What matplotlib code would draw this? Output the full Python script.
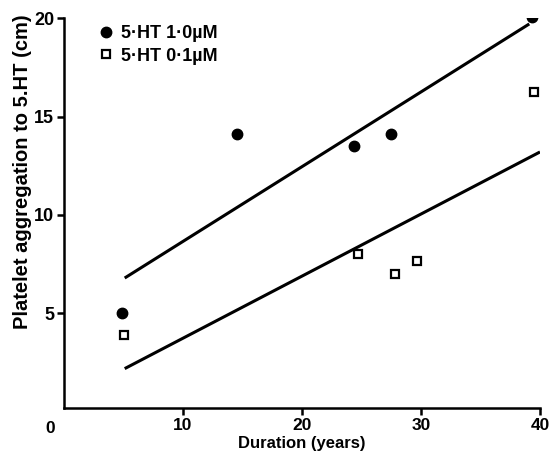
import matplotlib
matplotlib.use('Agg')
import matplotlib.pyplot as plt

# data
dur_high = [4.9, 14.5, 24.4, 27.5, 39.3]
agg_high = [5.0, 14.1, 13.5, 14.1, 20.05]
dur_low = [5.05, 24.7, 27.8, 29.7, 39.5]
agg_low = [3.9, 8.0, 7.0, 7.65, 16.25]

# regression line end points
fit_high_x = [5.1, 39.1]
fit_high_y = [6.8, 19.7]
fit_low_x = [5.1, 40.0]
fit_low_y = [2.2, 13.2]

xticks = [10, 20, 30, 40]
yticks = [5, 10, 15, 20]

plt.rcParams['font.family'] = 'Liberation Sans'
plt.rcParams['font.weight'] = 'bold'

fig = plt.figure(figsize=(5.49, 4.54), dpi=100)
ax = fig.add_axes([0.1166, 0.1013, 0.867, 0.859])

ax.plot(fit_high_x, fit_high_y, color='black', lw=2.2, solid_capstyle='butt')
ax.plot(fit_low_x, fit_low_y, color='black', lw=2.2, solid_capstyle='butt')
ax.plot(dur_high, agg_high, 'o', color='black', ms=7.5, label='5·HT 1·0µM')
ax.plot(dur_low, agg_low, 's', mfc='white', mec='black', mew=1.6, ms=6.3,
        label='5·HT 0·1µM')

ax.set_xlim(0, 40)
ax.set_ylim(0.2, 20)
ax.set_xticks(xticks)
ax.set_yticks(yticks)
for s in ['top', 'right']:
    ax.spines[s].set_visible(False)
for s in ['left', 'bottom']:
    ax.spines[s].set_linewidth(1.8)
ax.tick_params(axis='both', width=1.8, length=5, labelsize=13)
ax.tick_params(axis='x', pad=2.5, labelsize=12.5)
ax.tick_params(axis='y', pad=2)
ax.text(-1.2, -0.86, '0', ha='center', va='center', fontsize=12.5,
        fontweight='bold', transform=ax.transData, clip_on=False)

ax.set_xlabel('Duration (years)', fontsize=12, fontweight='bold')
ax.xaxis.label.set_va('center')
ax.xaxis.set_label_coords(0.5, -0.09)
ax.set_ylabel('Platelet aggregation to 5.HT (cm)', fontsize=14.5,
              fontweight='bold')
ax.yaxis.set_label_coords(-0.068, 0.605)

leg = ax.legend(loc='upper left', bbox_to_anchor=(0.042, 1.023), frameon=False,
                handlelength=0.6, handletextpad=0.55, labelspacing=0.3,
                prop={'size': 13, 'weight': 'bold'}, numpoints=1)

fig.savefig('out.png', dpi=100)
